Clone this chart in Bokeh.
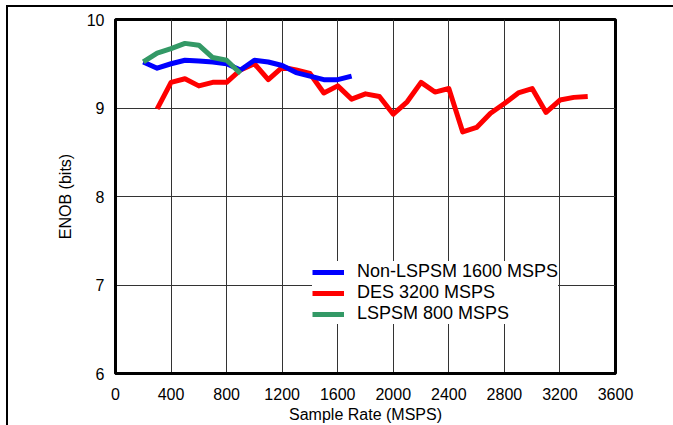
from bokeh.plotting import figure
from bokeh.models import Range1d, FixedTicker, Legend, LegendItem
from bokeh.embed import file_html
from bokeh.resources import INLINE

# ENOB versus sample rate for three interleaving modes
lspsm_rate = [200, 300, 400, 500, 600, 700, 800, 900]
lspsm_enob = [9.52, 9.62, 9.67, 9.73, 9.71, 9.57, 9.54, 9.39]

nonlspsm_rate = [200, 300, 400, 500, 600, 700, 800, 900, 1000, 1100, 1200,
                 1300, 1400, 1500, 1600, 1700]
nonlspsm_enob = [9.52, 9.45, 9.50, 9.54, 9.53, 9.52, 9.50, 9.43, 9.54, 9.52,
                 9.48, 9.40, 9.36, 9.32, 9.32, 9.36]

des_rate = [300, 400, 500, 600, 700, 800, 900, 1000, 1100, 1200, 1300, 1400,
            1500, 1600, 1700, 1800, 1900, 2000, 2100, 2200, 2300, 2400, 2500,
            2600, 2700, 2800, 2900, 3000, 3100, 3200, 3300, 3400]
des_enob = [8.99, 9.29, 9.33, 9.25, 9.29, 9.29, 9.43, 9.50, 9.32, 9.46, 9.43,
            9.39, 9.17, 9.25, 9.10, 9.16, 9.13, 8.93, 9.07, 9.29, 9.18, 9.22,
            8.73, 8.78, 8.94, 9.05, 9.17, 9.22, 8.95, 9.09, 9.12, 9.13]

x_ticks = [0, 400, 800, 1200, 1600, 2000, 2400, 2800, 3200, 3600]
y_ticks = [6, 7, 8, 9, 10]

FONT = "Liberation Sans"

p = figure(width=673, height=425, output_backend="svg", toolbar_location=None,
           x_range=Range1d(0, 3600), y_range=Range1d(6, 10),
           min_border_left=115, min_border_right=58, min_border_top=19,
           min_border_bottom=52)

# page frame: top rule and left rule drawn behind the transparent canvas
p.border_fill_color = None
p.styles = {
    "background": "linear-gradient(#000,#000) 7px 5px / 100% 2px no-repeat, "
                  "linear-gradient(#000,#000) 6px 5px / 2px 100% no-repeat, #fff"
}
p.background_fill_color = "white"

p.outline_line_color = "black"
p.outline_line_width = 3

for ax in (p.xaxis[0], p.yaxis[0]):
    ax.axis_line_width = 3
    ax.axis_line_color = "black"
    ax.major_tick_line_color = None
    ax.minor_tick_line_color = None
    ax.major_label_text_font = FONT
    ax.major_label_text_font_size = "16px"
    ax.major_label_text_color = "black"
    ax.axis_label_text_font = FONT
    ax.axis_label_text_font_size = "16px"
    ax.axis_label_text_font_style = "normal"
    ax.axis_label_text_color = "black"

p.xaxis.ticker = FixedTicker(ticks=x_ticks)
p.yaxis.ticker = FixedTicker(ticks=y_ticks)
p.xaxis.axis_label = "Sample Rate (MSPS)"
p.yaxis.axis_label = "ENOB (bits)"
p.xaxis.major_label_standoff = 8
p.xaxis.axis_label_standoff = 3
p.yaxis.major_label_standoff = 5
p.yaxis.axis_label_standoff = 10

p.xgrid.ticker = FixedTicker(ticks=x_ticks)
p.ygrid.ticker = FixedTicker(ticks=y_ticks)
for g in (p.xgrid[0], p.ygrid[0]):
    g.grid_line_color = "#333333"
    g.grid_line_width = 1

r_des = p.line(des_rate, des_enob, line_color="#ff0000", line_width=5,
               line_join="round")
r_non = p.line(nonlspsm_rate, nonlspsm_enob, line_color="#0000ff",
               line_width=5, line_join="round")
r_ls = p.line(lspsm_rate, lspsm_enob, line_color="#339966", line_width=5,
              line_join="round")

legend = Legend(items=[
    LegendItem(label="Non-LSPSM 1600 MSPS", renderers=[r_non]),
    LegendItem(label="DES 3200 MSPS", renderers=[r_des]),
    LegendItem(label="LSPSM 800 MSPS", renderers=[r_ls]),
], location=(197, 49))
legend.label_text_font = FONT
legend.label_text_font_size = "18px"
legend.label_text_color = "black"
legend.border_line_color = None
legend.background_fill_color = "white"
legend.background_fill_alpha = 1
legend.padding = 18
legend.spacing = 0
legend.margin = 0
legend.glyph_width = 32
legend.glyph_height = 20
legend.label_height = 20
legend.label_standoff = 13
p.add_layout(legend, "center")

open("out.html", "w").write(file_html(p, INLINE))
